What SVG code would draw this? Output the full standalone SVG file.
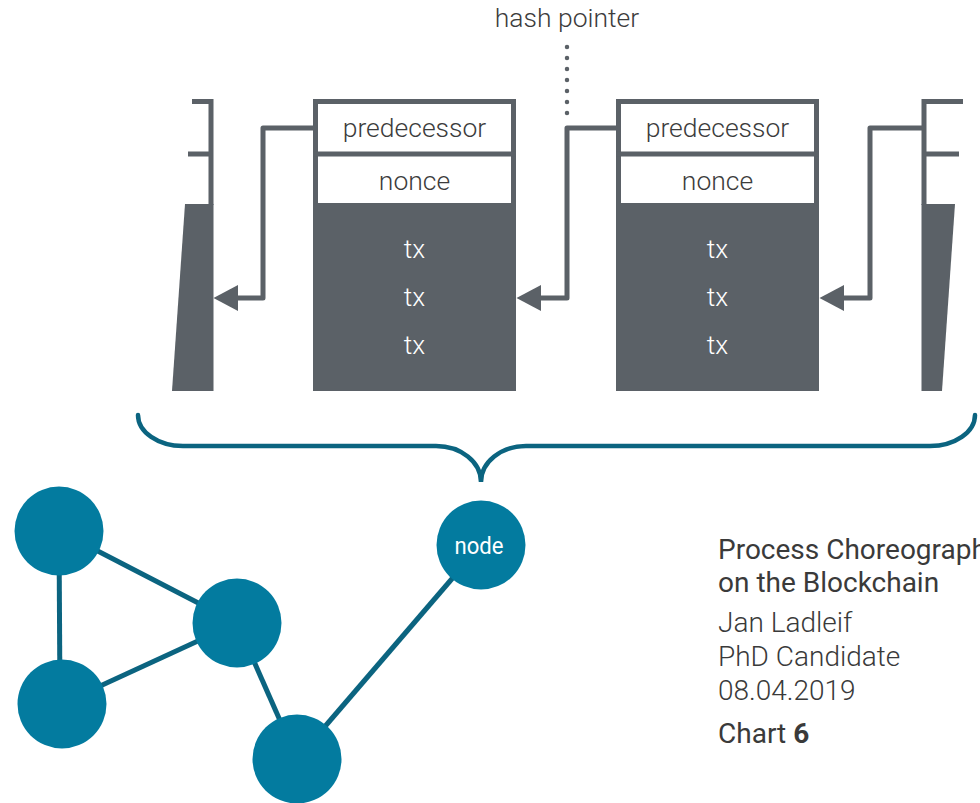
<svg xmlns="http://www.w3.org/2000/svg" width="980" height="803" viewBox="0 0 980 803">
<style>
.g{fill:#5b6167}
.gs{stroke:#5b6167;stroke-width:5;fill:none}
.box{fill:#fff;stroke:#5b6167;stroke-width:5}
.lbl{font-family:Roboto,"Liberation Sans",sans-serif;font-weight:300;font-size:26.5px;fill:#3c3c3c;text-anchor:middle}
.tx{font-family:Roboto,"Liberation Sans",sans-serif;font-weight:300;font-size:26.5px;fill:#fff;text-anchor:middle}
.edge{stroke:#0b6480;stroke-width:5;fill:none}
.nd{fill:#037b9f}
.info{font-family:Roboto,"Liberation Sans",sans-serif;font-size:28px;fill:#3a3a3a}
.lt{font-weight:300}
</style>
<rect width="980" height="803" fill="#fff"/>

<g id="block-prev">
  <path class="gs" d="M192,101.5 H211 V205 M188,154 H211"/>
  <polygon class="g" points="185,204 213.5,204 213.5,391 172,391"/>
</g>

<g id="block-1">
  <rect class="box" x="315.5" y="101.5" width="198" height="104"/>
  <line class="gs" x1="313" y1="154" x2="516" y2="154"/>
  <rect class="g" x="313" y="204" width="203" height="187"/>
  <text class="lbl" x="414.5" y="137">predecessor</text>
  <text class="lbl" x="414.5" y="190">nonce</text>
  <text class="tx" x="414.5" y="258">tx</text>
  <text class="tx" x="414.5" y="306">tx</text>
  <text class="tx" x="414.5" y="354">tx</text>
</g>

<g id="block-2">
  <rect class="box" x="618.5" y="101.5" width="198" height="104"/>
  <line class="gs" x1="616" y1="154" x2="819" y2="154"/>
  <rect class="g" x="616" y="204" width="203" height="187"/>
  <text class="lbl" x="717.5" y="137">predecessor</text>
  <text class="lbl" x="717.5" y="190">nonce</text>
  <text class="tx" x="717.5" y="258">tx</text>
  <text class="tx" x="717.5" y="306">tx</text>
  <text class="tx" x="717.5" y="354">tx</text>
</g>

<g id="block-next">
  <path class="gs" d="M963,101.5 H924 V205 M959,154 H924"/>
  <polygon class="g" points="921.5,204 955,204 942,391 921.5,391"/>
</g>

<g id="hash-pointer-label">
  <text class="lbl" x="567" y="27">hash pointer</text>
  <line x1="567" y1="47" x2="567" y2="114" stroke="#5b6167" stroke-width="4.5" stroke-linecap="round" stroke-dasharray="0 11"/>
</g>

<g id="connectors">
  <path class="gs" stroke-linejoin="round" d="M314,128 H263 V298 H236"/>
  <polygon class="g" points="213.5,298 238,285 238,311"/>
  <path class="gs" stroke-linejoin="round" d="M617,128 H567 V298 H540"/>
  <polygon class="g" points="516.5,298 541,285 541,311"/>
  <path class="gs" stroke-linejoin="round" d="M924,128 H870 V298 H843"/>
  <polygon class="g" points="819.5,298 844,285 844,311"/>
</g>

<g id="brace">
  <path d="M138,415 A45,31 0 0 0 183,446 L436,446 A45,36 0 0 1 481,482 A45,36 0 0 1 526,446 L930,446 A45,31 0 0 0 975,415" fill="none" stroke="#0b6480" stroke-width="4.5" stroke-linecap="round"/>
</g>

<g id="network-edges">
  <line class="edge" x1="59" y1="531" x2="60" y2="704"/>
  <line class="edge" x1="59" y1="531" x2="237" y2="623"/>
  <line class="edge" x1="61" y1="704" x2="237" y2="623"/>
  <line class="edge" x1="237" y1="623" x2="297" y2="759"/>
  <line class="edge" x1="297" y1="759" x2="481" y2="545"/>
</g>
<g id="node-a"><circle class="nd" cx="59" cy="531" r="44.5"/></g>
<g id="node-b"><circle class="nd" cx="62" cy="704" r="44.5"/></g>
<g id="node-c"><circle class="nd" cx="237" cy="623" r="44.5"/></g>
<g id="node-d"><circle class="nd" cx="297" cy="759" r="44.5"/></g>
<g id="node-e">
  <circle class="nd" cx="481" cy="545" r="44.5"/>
  <text x="479" y="554" font-family="Roboto,'Liberation Sans',sans-serif" font-size="24" fill="#fff" text-anchor="middle" textLength="49" lengthAdjust="spacingAndGlyphs">node</text>
</g>

<g id="info">
  <text class="info" x="718" y="559">Process Choreography</text>
  <text class="info" x="718" y="592">on the Blockchain</text>
  <text class="info lt" x="718" y="632">Jan Ladleif</text>
  <text class="info lt" x="718" y="666">PhD Candidate</text>
  <text class="info lt" x="718" y="700">08.04.2019</text>
  <text class="info" x="718" y="743">Chart <tspan font-weight="700">6</tspan></text>
</g>
</svg>
